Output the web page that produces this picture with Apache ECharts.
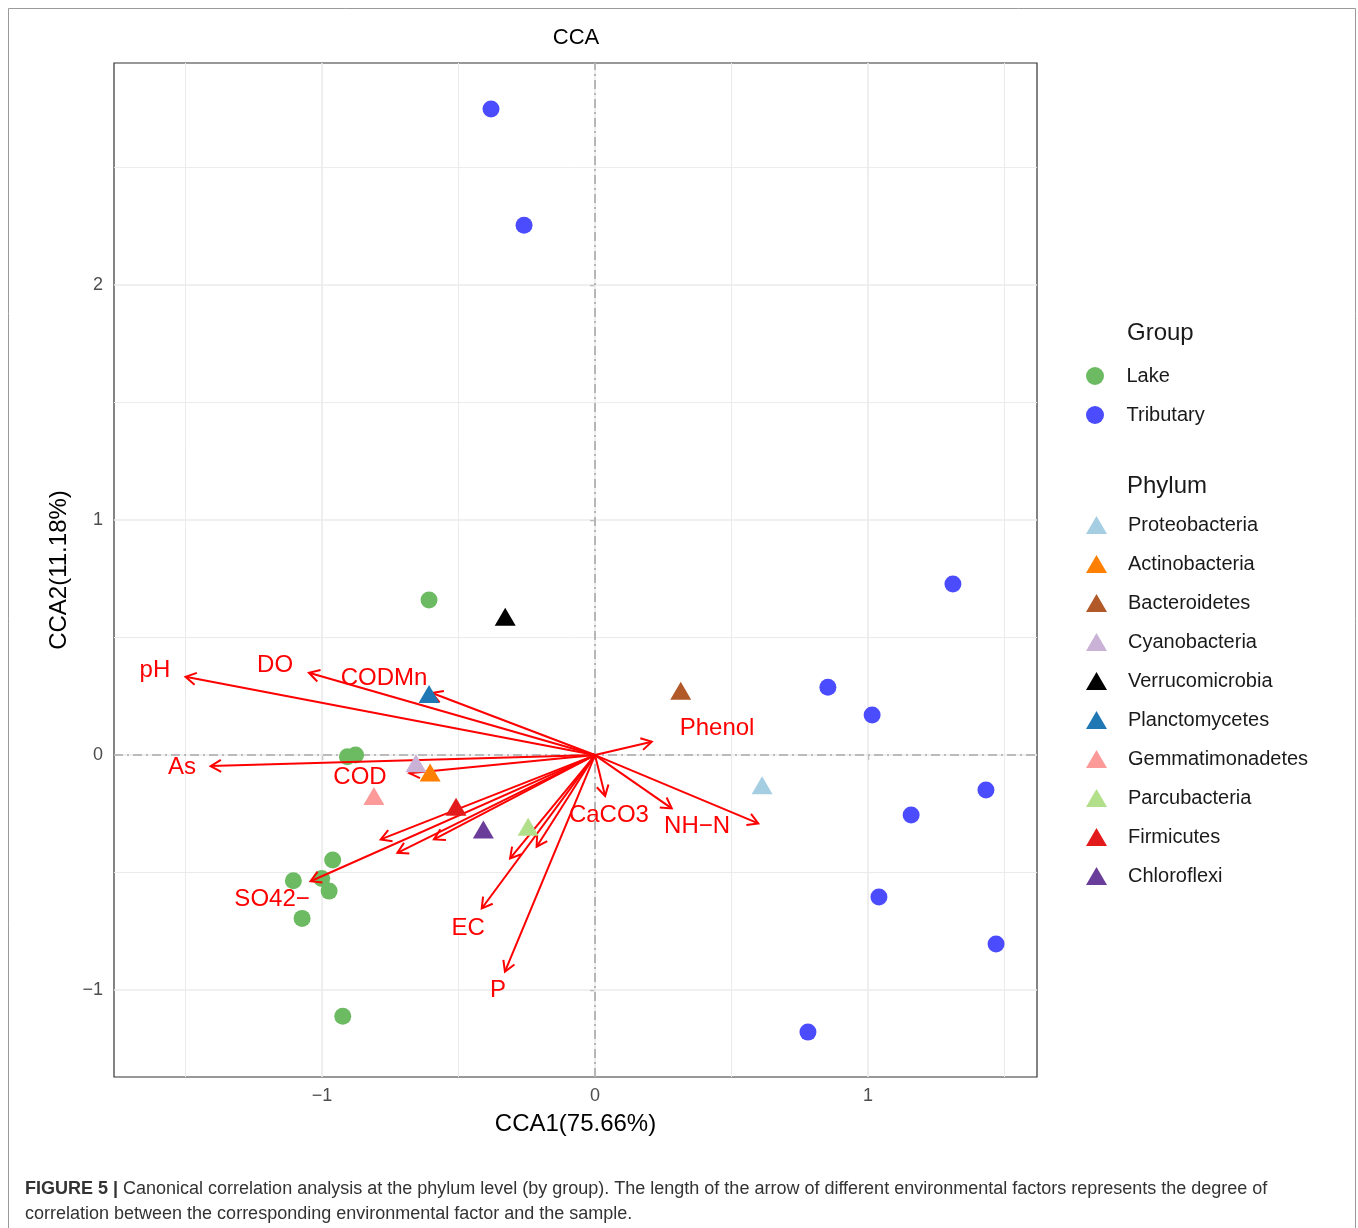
<!DOCTYPE html>
<html>
<head>
<meta charset="utf-8">
<script src="https://cdn.jsdelivr.net/npm/echarts@6/dist/echarts.min.js"></script>
<style>
html,body{margin:0;padding:0;background:#fff;}
#chart{width:1358px;height:1228px;}
</style>
</head>
<body>
<div id="chart"></div>
<script>
// ---- data ----
const xRange = [-1.762, 1.619];
const yRange = [-1.37, 2.945];
const xTicks = [-1, 0, 1];
const yTicks = [-1, 0, 1, 2];
const xGridMajor = [-1, 0, 1];
const xGridMinor = [-1.5, -0.5, 0.5, 1.5];
const yGridMajor = [-1, 0, 1, 2];
const yGridMinor = [-0.5, 0.5, 1.5, 2.5];

const lakeX = [-0.608, -0.907, -0.877, -0.961, -1.105, -1.001, -0.974, -1.073, -0.924];
const lakeY = [0.660, -0.007, 0.000, -0.447, -0.535, -0.525, -0.579, -0.695, -1.111];
const tribX = [-0.381, -0.260, 1.311, 0.853, 1.015, 1.432, 1.158, 1.040, 1.469, 0.780];
const tribY = [2.749, 2.255, 0.728, 0.289, 0.170, -0.149, -0.255, -0.604, -0.804, -1.179];

const phylumNames = ['Proteobacteria','Actinobacteria','Bacteroidetes','Cyanobacteria','Verrucomicrobia','Planctomycetes','Gemmatimonadetes','Parcubacteria','Firmicutes','Chloroflexi'];
const phylumX = [0.612, -0.604, 0.314, -0.656, -0.329, -0.608, -0.810, -0.245, -0.509, -0.409];
const phylumY = [-0.128, -0.074, 0.274, -0.035, 0.589, 0.260, -0.174, -0.305, -0.220, -0.317];
const phylumColors = ['#A6CEE3','#FF7F00','#B15928','#CAB2D6','#000000','#1F78B4','#FB9A99','#B2DF8A','#E31A1C','#6A3D9A'];

// environmental factor arrows (tips)
const arrowX = [-1.500, -1.048, -0.597, -1.408, -0.681, -0.785, -0.724, -0.590, -1.042, -0.415, -0.330, -0.311, -0.214, 0.037, 0.281, 0.598, 0.208];
const arrowY = [0.333, 0.350, 0.264, -0.047, -0.077, -0.359, -0.416, -0.359, -0.537, -0.653, -0.922, -0.440, -0.390, -0.174, -0.227, -0.291, 0.057];

// arrow labels
const envLabels = ['pH','DO','CODMn','As','COD','SO42\u2212','EC','P','CaCO3','NH\u2212N','Phenol'];
const envLabelX = [-1.612, -1.172, -0.773, -1.513, -0.861, -1.183, -0.465, -0.355, 0.051, 0.374, 0.447];
const envLabelY = [0.362, 0.383, 0.328, -0.051, -0.094, -0.613, -0.736, -1.000, -0.255, -0.302, 0.115];

// ---- chart ----
const FONT = 'Liberation Sans, Arial, Helvetica, sans-serif';
const chart = echarts.init(document.getElementById('chart'), null, {renderer:'canvas'});

function vLine(major) {
  return function (params, api) {
    const v = api.value(0);
    const p1 = api.coord([v, yRange[0]]), p2 = api.coord([v, yRange[1]]);
    return {type:'line', shape:{x1:p1[0], y1:p1[1], x2:p2[0], y2:p2[1]},
      style:{stroke:'#EBEBEB', lineWidth: major ? 1.6 : 1.0}};
  };
}
function hLine(major) {
  return function (params, api) {
    const v = api.value(1);
    const p1 = api.coord([xRange[0], v]), p2 = api.coord([xRange[1], v]);
    return {type:'line', shape:{x1:p1[0], y1:p1[1], x2:p2[0], y2:p2[1]},
      style:{stroke:'#EBEBEB', lineWidth: major ? 1.6 : 1.0}};
  };
}

const series = [];
series.push({type:'custom', name:'gxM', data: xGridMajor.map(v=>[v,0]), renderItem: vLine(true), z:1, silent:true});
series.push({type:'custom', name:'gxm', data: xGridMinor.map(v=>[v,0]), renderItem: vLine(false), z:1, silent:true});
series.push({type:'custom', name:'gyM', data: yGridMajor.map(v=>[0,v]), renderItem: hLine(true), z:1, silent:true});
series.push({type:'custom', name:'gym', data: yGridMinor.map(v=>[0,v]), renderItem: hLine(false), z:1, silent:true});
// zero dashed lines
series.push({type:'custom', name:'zero', data:[[0,0]], renderItem: function(p, api){
  const a = api.coord([0, yRange[0]]), b = api.coord([0, yRange[1]]);
  const c = api.coord([xRange[0], 0]), d = api.coord([xRange[1], 0]);
  const st = {stroke:'#A9A9A9', lineWidth:1.6, lineDash:[9,4,2,4]};
  return {type:'group', children:[
    {type:'line', shape:{x1:a[0],y1:a[1],x2:b[0],y2:b[1]}, style:st},
    {type:'line', shape:{x1:c[0],y1:c[1],x2:d[0],y2:d[1]}, style:st}
  ]};
}, z:2, silent:true});

series.push({type:'scatter', name:'Lake', data: lakeX.map((x,i)=>[x, lakeY[i]]), symbol:'circle', symbolSize:17,
  itemStyle:{color:'#6CBB63', opacity:1}, z:3});
series.push({type:'scatter', name:'Tributary', data: tribX.map((x,i)=>[x, tribY[i]]), symbol:'circle', symbolSize:17,
  itemStyle:{color:'#4C4CFF', opacity:1}, z:3});

// arrows
series.push({type:'custom', name:'arrows', data: arrowX.map((x,i)=>[x, arrowY[i]]), z:4, silent:true,
  renderItem: function(params, api){
    const p0 = api.coord([0,0]);
    const p1 = api.coord([api.value(0), api.value(1)]);
    const ang = Math.atan2(p1[1]-p0[1], p1[0]-p0[0]);
    const L = 12, a = Math.PI/6;
    const h1 = [p1[0]-L*Math.cos(ang-a), p1[1]-L*Math.sin(ang-a)];
    const h2 = [p1[0]-L*Math.cos(ang+a), p1[1]-L*Math.sin(ang+a)];
    const st = {stroke:'#FF0000', lineWidth:2, fill:null};
    return {type:'group', children:[
      {type:'line', shape:{x1:p0[0],y1:p0[1],x2:p1[0],y2:p1[1]}, style:st},
      {type:'polyline', shape:{points:[h1,p1,h2]}, style:st}
    ]};
  }});

phylumNames.forEach((n,i)=>{
  series.push({type:'scatter', name:n, data:[[phylumX[i], phylumY[i]]], symbol:'triangle', symbolSize:[21,18],
    itemStyle:{color: phylumColors[i], opacity:1}, z:5});
});

series.push({type:'scatter', name:'envLabels', data: envLabels.map((t,i)=>[envLabelX[i], envLabelY[i], t]),
  symbolSize:0, itemStyle:{color:'rgba(0,0,0,0)'}, z:6, silent:true,
  label:{show:true, position:'inside', formatter: p=>p.value[2], color:'#FF0000', opacity:1,
    textBorderWidth:0, textBorderColor:'transparent', fontSize:24, fontFamily:FONT}});

const legendCommon = {orient:'vertical', itemWidth:21, itemHeight:18, itemGap:19,
  textStyle:{fontSize:20, color:'#1A1A1A', fontFamily:FONT, padding:[0,0,0,16]}, selectedMode:false, padding:0};

const option = {
  backgroundColor:'#ffffff',
  animation:false,
  grid:{left:114, top:63, right:321, bottom:151, show:true, borderColor:'#333333', borderWidth:1.2, backgroundColor:'#fff'},
  xAxis:{type:'value', min:xRange[0], max:xRange[1],
    name:'CCA1(75.66%)', nameLocation:'middle', nameGap:35,
    nameTextStyle:{fontSize:24, color:'#000', fontFamily:FONT},
    axisLine:{show:false}, splitLine:{show:false},
    axisTick:{show:true, length:5, lineStyle:{color:'#333', width:1.2}, customValues:xTicks},
    axisLabel:{customValues:xTicks, fontSize:18, color:'#4D4D4D', margin:10, fontFamily:FONT,
      formatter: v => (v<0 ? '\u2212'+Math.abs(v) : String(v))}},
  yAxis:{type:'value', min:yRange[0], max:yRange[1],
    name:'CCA2(11.18%)', nameLocation:'middle', nameGap:42, nameRotate:90,
    nameTextStyle:{fontSize:24, color:'#000', fontFamily:FONT},
    axisLine:{show:false}, splitLine:{show:false},
    axisTick:{show:true, length:5, lineStyle:{color:'#333', width:1.2}, customValues:yTicks},
    axisLabel:{customValues:yTicks, fontSize:18, color:'#4D4D4D', margin:11, fontFamily:FONT,
      formatter: v => (v<0 ? '\u2212'+Math.abs(v) : String(v))}},
  legend:[
    Object.assign({}, legendCommon, {left:1086, top:366, data:[{name:'Lake', icon:'circle'},{name:'Tributary', icon:'circle'}]}),
    Object.assign({}, legendCommon, {left:1086, top:515, data: phylumNames.map(n=>({name:n, icon:'triangle'}))})
  ],
  graphic:[
    {type:'rect', shape:{x:8.5, y:8.5, width:1347, height:1260}, style:{stroke:'#9A9A9A', fill:null, lineWidth:1}, z:-1, silent:true},
    {type:'text', x:576, y:38, style:{text:'CCA', fontSize:22, fill:'#000', fontFamily:FONT, align:'center', verticalAlign:'middle'}},
    {type:'text', left:1127, top:321, style:{text:'Group', fontSize:24, fill:'#1A1A1A', fontFamily:FONT}},
    {type:'text', left:1127, top:474, style:{text:'Phylum', fontSize:24, fill:'#1A1A1A', fontFamily:FONT}},
    {type:'text', left:25, top:1177, style:{
      text:'{b|FIGURE 5 |} Canonical correlation analysis at the phylum level (by group). The length of the arrow of different environmental factors represents the degree of\ncorrelation between the corresponding environmental factor and the sample.',
      fontSize:18, lineHeight:25, fill:'#333', fontFamily:FONT,
      rich:{b:{fontWeight:'bold', fontSize:18, fill:'#333', fontFamily:FONT}}}}
  ],
  series: series
};
chart.setOption(option);
</script>
</body>
</html>
